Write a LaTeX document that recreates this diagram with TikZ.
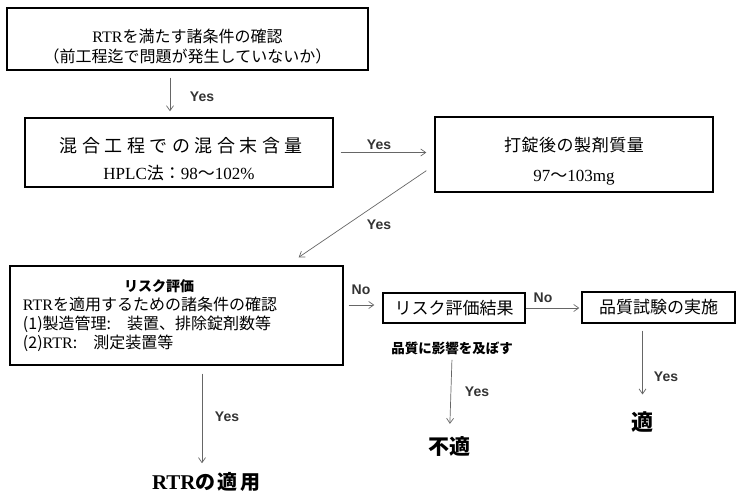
\documentclass[tikz,border=0pt]{standalone}
\usepackage{fontspec}
\setmainfont{Noto Sans CJK JP}
\newfontfamily\tms{Liberation Serif}
\newfontfamily\arl{Liberation Sans}
\usetikzlibrary{arrows.meta}
\newcommand\pad[1]{\rule{0pt}{#1pt}}

\begin{document}
\begin{tikzpicture}[x=1pt,y=-1pt,
  arj/.style={draw=black!60,line width=.7pt,-{Straight Barb[length=5pt,width=7pt]}},
  bx/.style={draw,line width=1.4pt,align=center,inner sep=0pt},
  yn/.style={font=\arl\bfseries\fontsize{14}{14}\selectfont,text=black!80},
  big/.style={inner sep=0pt,font=\bfseries\fontsize{#1}{#1}\selectfont}]
\useasboundingbox (0,0) rectangle (736,495);

\node[bx,minimum width=361,minimum height=62,font=\fontsize{16}{20}\selectfont] (cond) at (187.5,39)
  {\pad{29}{\tms RTR}を満たす諸条件の確認\\（前工程迄で問題が発生していないか）};
\node[bx,minimum width=308,minimum height=69,font=\fontsize{17}{27}\selectfont] (mix) at (179,152.5)
  {\pad{28}{\fontsize{18}{27}\selectfont\addfontfeatures{LetterSpace=25}混合工程での混合末含量\kern-4.5pt}\\
   {\tms HPLC}法：{\tms 98}〜{\tms 102\%}};
\node[bx,minimum width=278,minimum height=75,font=\fontsize{17}{30}\selectfont] (mass) at (574,154.5)
  {\pad{27}{\addfontfeatures{LetterSpace=3}打錠後の製剤質量}\\{\tms 97}〜{\tms 103mg}};
\node[bx,minimum width=333,minimum height=99,text width=307,align=left,
      font=\fontsize{16}{19}\selectfont] (risk) at (176.5,315.5)
  {\makebox[272pt]{\bfseries\fontsize{14}{14}\selectfont リスク評価}\\
   {\tms RTR}を適用するための諸条件の確認\\
   (1)製造管理:　装置、排除錠剤数等\\
   (2){\tms RTR}:　測定装置等};
\node[bx,minimum width=142,minimum height=30,font=\fontsize{17}{20}\selectfont] (res) at (454,308) {リスク評価結果};
\node[bx,minimum width=153,minimum height=31,font=\fontsize{17}{20}\selectfont] (test) at (658.5,307.5) {品質試験の実施};

\node[font=\bfseries\fontsize{13.5}{14}\selectfont] (eff) at (452,348) {品質に影響を及ぼす};
\node[big=21] (ng) at (449.5,446) {不適};
\node[big=22] (ok) at (642.5,422) {適};
\node[big=20] (use) at (205,482) {{\tms\bfseries\fontsize{21}{21}\selectfont RTR}{\addfontfeatures{LetterSpace=12}の適用\kern-2.4pt}};

\node[yn] (y1) at (202,97) {Yes};
\node[yn] (y2) at (379,145) {Yes};
\node[yn] (y3) at (379,225) {Yes};
\node[yn] (y4) at (227,417) {Yes};
\node[yn] (y5) at (477,392) {Yes};
\node[yn] (y6) at (666,377) {Yes};
\node[yn] (n1) at (361,290) {No};
\node[yn] (n2) at (543,298) {No};

\draw[arj,shorten <=7pt,shorten >=6pt] ([xshift=-17.5pt]cond.south) -- ([xshift=-9pt]mix.north);
\draw[arj,shorten <=7pt,shorten >=8pt] (mix.east) -- (mix.east -| mass.west);
\draw[arj] ([xshift=-8pt,yshift=22pt]mass.south west) -- ([xshift=-45pt,yshift=8pt]risk.north east);
\draw[arj,shorten <=8pt,shorten >=9pt] ([xshift=25.5pt]risk.south) -- ([xshift=25.5pt]risk.south |- use.north);
\draw[arj,shorten <=5pt,shorten >=8pt] ([yshift=3pt]res.west -| risk.east) -- ([yshift=3pt]res.west);
\draw[arj,shorten >=2pt] (res.east) -- (res.east -| test.west);
\draw[arj,shorten <=7pt,shorten >=17pt] (ok.north |- test.south) -- (ok.north);
\draw[arj,shorten <=2pt,shorten >=12pt] (eff.south) -- (ng.north);
\end{tikzpicture}
\end{document}
